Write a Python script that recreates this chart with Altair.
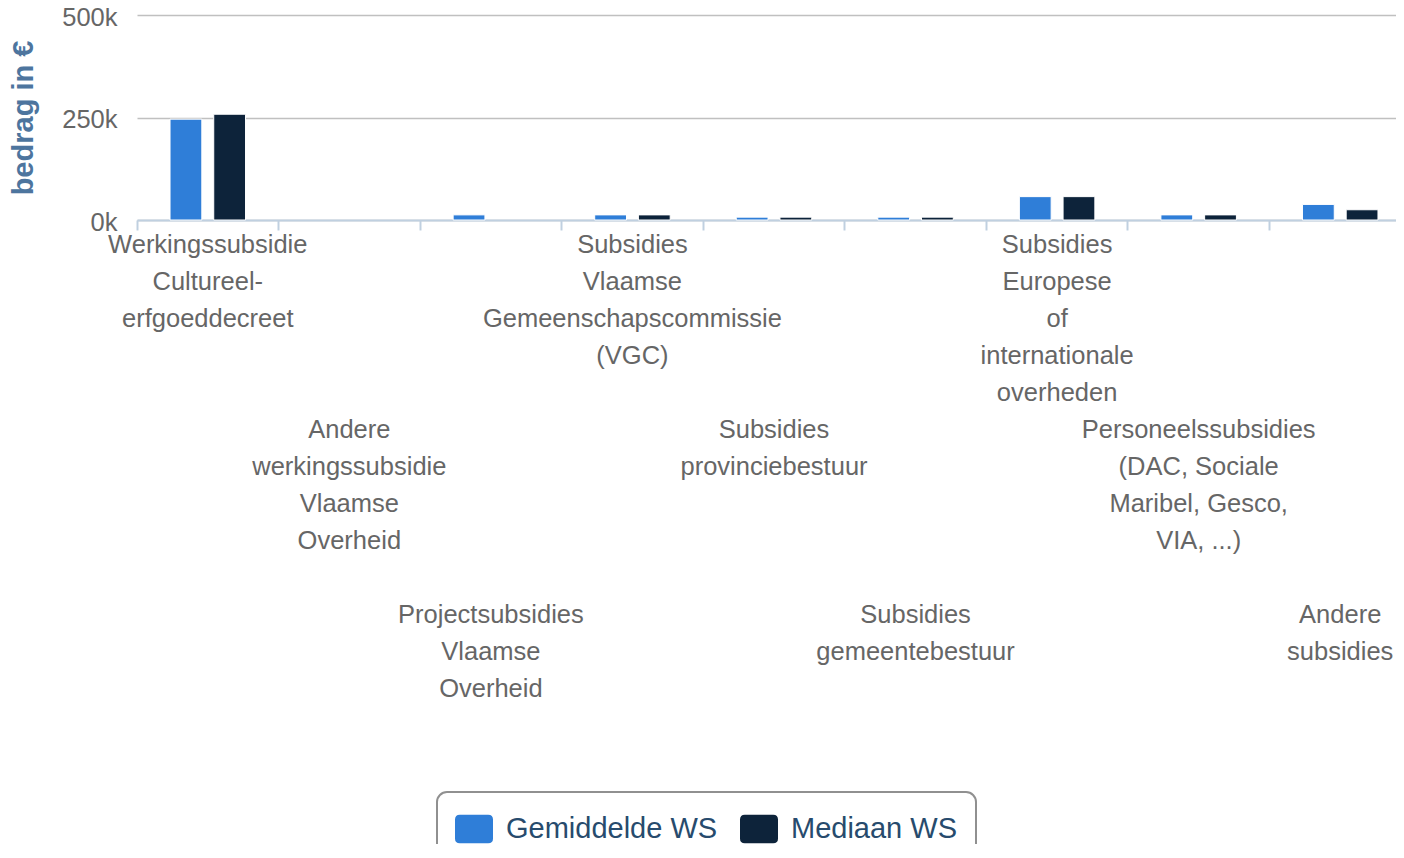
import json
import altair as alt
import pandas as pd

categories = [
    "Werkingssubsidie Cultureel-erfgoeddecreet",
    "Andere werkingssubsidie Vlaamse Overheid",
    "Projectsubsidies Vlaamse Overheid",
    "Subsidies Vlaamse Gemeenschapscommissie (VGC)",
    "Subsidies provinciebestuur",
    "Subsidies gemeentebestuur",
    "Subsidies Europese of internationale overheden",
    "Personeelssubsidies (DAC, Sociale Maribel, Gesco, VIA, ...)",
    "Andere subsidies",
]
label_lines = [
    ["Werkingssubsidie", "Cultureel-", "erfgoeddecreet"],
    ["Andere", "werkingssubsidie", "Vlaamse", "Overheid"],
    ["Projectsubsidies", "Vlaamse", "Overheid"],
    ["Subsidies", "Vlaamse", "Gemeenschapscommissie", "(VGC)"],
    ["Subsidies", "provinciebestuur"],
    ["Subsidies", "gemeentebestuur"],
    ["Subsidies", "Europese", "of", "internationale", "overheden"],
    ["Personeelssubsidies", "(DAC, Sociale", "Maribel, Gesco,", "VIA, ...)"],
    ["Andere", "subsidies"],
]
series = ["Gemiddelde WS", "Mediaan WS"]
gemiddelde = [246000, 0, 12500, 12500, 7000, 7000, 57000, 12500, 38000]
mediaan = [258000, 0, 0, 12500, 7000, 7000, 57000, 12500, 25000]
y_ticks = [0, 250000, 500000]
colors = ["#2f7ed8", "#0d233a"]

rows = []
for i, c in enumerate(categories):
    rows.append({"category": c, "series": series[0], "value": gemiddelde[i]})
    rows.append({"category": c, "series": series[1], "value": mediaan[i]})
df = pd.DataFrame(rows)

line_map = {c: label_lines[i] for i, c in enumerate(categories)}
row_map = {c: i % 3 for i, c in enumerate(categories)}
label_expr = json.dumps(line_map, ensure_ascii=False) + "[datum.value]"
# staggered rows of labels (three rows, 185px apart)
pad_expr = "2 + 185 * " + json.dumps(row_map, ensure_ascii=False) + "[datum.value]"

W = 1274
H = 205

rounded = ("M-0.75,-0.75 L0.75,-0.75 Q1,-0.75 1,-0.5 L1,0.5 Q1,0.75 0.75,0.75 "
           "L-0.75,0.75 Q-1,0.75 -1,0.5 L-1,-0.5 Q-1,-0.75 -0.75,-0.75 Z")

chart = (
    alt.Chart(df)
    .transform_filter("datum.value > 0")
    .mark_bar(stroke="white", strokeWidth=1)
    .encode(
        x=alt.X(
            "category:N",
            scale=alt.Scale(domain=categories, paddingInner=0, paddingOuter=0),
            title=None,
            axis=alt.Axis(
                labelExpr=label_expr,
                labelAngle=0,
                labelLimit=600,
                labelFontSize=25.5,
                labelColor="#666666",
                labelFont="Liberation Sans",
                labelLineHeight=37,
                labelPadding=alt.ExprRef(pad_expr),
                bandPosition=0,
                domainColor="#C0D0E0",
                domainWidth=2,
                tickColor="#C0D0E0",
                tickWidth=2,
                tickSize=10,
                grid=False,
            ),
        ),
        xOffset=alt.XOffset(
            "series:N",
            scale=alt.Scale(domain=series, paddingInner=0.2727, paddingOuter=0.7557),
        ),
        y=alt.Y(
            "value:Q",
            scale=alt.Scale(domain=[0, 500000]),
            title="bedrag in €",
            axis=alt.Axis(
                values=y_ticks,
                labelExpr="(datum.value / 1000) + 'k'",
                labelFontSize=25.5,
                labelColor="#666666",
                labelFont="Liberation Sans",
                labelPadding=20,
                labelOffset=2,
                domain=False,
                ticks=False,
                grid=True,
                gridColor="#C0C0C0",
                gridWidth=1.5,
                titleColor="#4d759e",
                titleFont="Liberation Sans",
                titleFontSize=29,
                titleFontWeight="bold",
                titlePadding=23,
            ),
        ),
        color=alt.Color(
            "series:N",
            scale=alt.Scale(domain=series, range=colors),
            legend=alt.Legend(
                title=None,
                orient="none",
                legendX=300,
                legendY=777,
                direction="horizontal",
                labelFontSize=29,
                labelFont="Liberation Sans",
                labelColor="#274b6d",
                labelLimit=400,
                symbolType=rounded,
                symbolSize=1444,
                symbolStrokeWidth=0,
                symbolOpacity=1,
                labelOffset=13,
                columnPadding=22,
                padding=18,
                strokeColor="#909090",
                cornerRadius=10,
                fillColor="white",
            ),
        ),
    )
    .properties(
        width=W,
        height=H,
        autosize=alt.AutoSizeParams(type="none"),
        padding={"left": 129, "top": 7, "right": -15, "bottom": 624},
    )
    .configure(font="Liberation Sans")
    .configure_legend(strokeWidth=2)
    .configure_view(strokeWidth=0)
)

chart.save("out.html", embed_options={"renderer": "svg", "actions": False})
